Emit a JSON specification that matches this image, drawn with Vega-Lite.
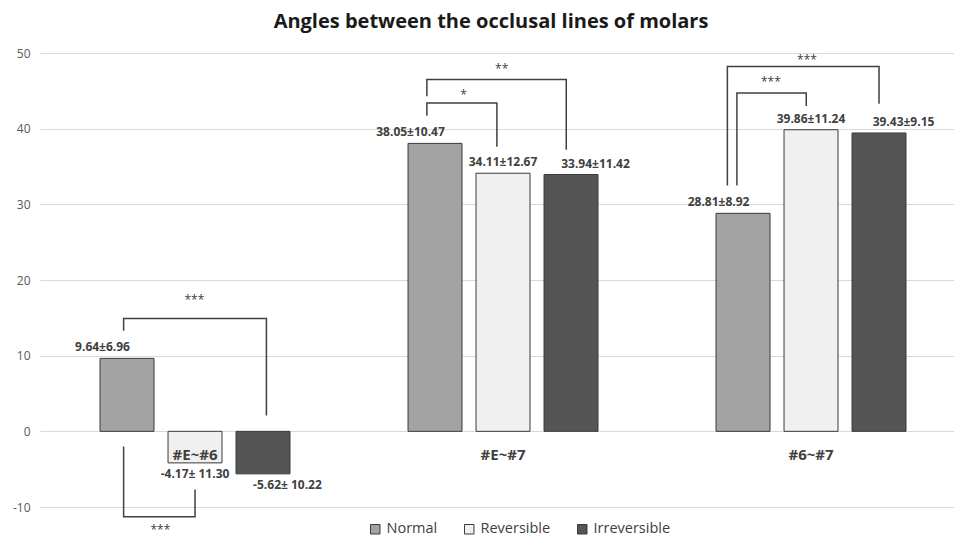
{
  "$schema": "https://vega.github.io/schema/vega-lite/v6.json",
  "width": 914,
  "height": 454,
  "autosize": {"type": "none"},
  "padding": {"left": 40, "top": 53, "right": 0, "bottom": 32},
  "background": "white",
  "title": {
    "text": "Angles between the occlusal lines of molars",
    "font": "Open Sans",
    "fontSize": 20,
    "fontWeight": "bold",
    "color": "#1a1a1a",
    "anchor": "middle",
    "baseline": "alphabetic",
    "offset": -1,
    "dx": -6
  },
  "config": {
    "view": {"stroke": null},
    "font": "Open Sans"
  },
  "datasets": {
    "bars": [
      {"group": "#E~#6", "series": "Normal", "value": 9.64, "label": "9.64±6.96"},
      {"group": "#E~#6", "series": "Reversible", "value": -4.17, "label": "-4.17± 11.30"},
      {"group": "#E~#6", "series": "Irreversible", "value": -5.62, "label": "-5.62± 10.22"},
      {"group": "#E~#7", "series": "Normal", "value": 38.05, "label": "38.05±10.47"},
      {"group": "#E~#7", "series": "Reversible", "value": 34.11, "label": "34.11±12.67"},
      {"group": "#E~#7", "series": "Irreversible", "value": 33.94, "label": "33.94±11.42"},
      {"group": "#6~#7", "series": "Normal", "value": 28.81, "label": "28.81±8.92"},
      {"group": "#6~#7", "series": "Reversible", "value": 39.86, "label": "39.86±11.24"},
      {"group": "#6~#7", "series": "Irreversible", "value": 39.43, "label": "39.43±9.15"}
    ],
    "brackets": [
      {"id": "g1top", "group": "#E~#6", "pos": 0.45, "y": 13.3, "ord": 1},
      {"id": "g1top", "group": "#E~#6", "pos": 0.45, "y": 14.9, "ord": 2},
      {"id": "g1top", "group": "#E~#6", "pos": 2.55, "y": 14.9, "ord": 3},
      {"id": "g1top", "group": "#E~#6", "pos": 2.55, "y": 2.1, "ord": 4},
      {"id": "g1bot", "group": "#E~#6", "pos": 0.45, "y": -2.0, "ord": 1},
      {"id": "g1bot", "group": "#E~#6", "pos": 0.45, "y": -11.3, "ord": 2},
      {"id": "g1bot", "group": "#E~#6", "pos": 1.5, "y": -11.3, "ord": 3},
      {"id": "g1bot", "group": "#E~#6", "pos": 1.5, "y": -7.7, "ord": 4},
      {"id": "g2in", "group": "#E~#7", "pos": 0.38, "y": 41.7, "ord": 1},
      {"id": "g2in", "group": "#E~#7", "pos": 0.38, "y": 43.4, "ord": 2},
      {"id": "g2in", "group": "#E~#7", "pos": 1.41, "y": 43.4, "ord": 3},
      {"id": "g2in", "group": "#E~#7", "pos": 1.41, "y": 37.6, "ord": 4},
      {"id": "g2out", "group": "#E~#7", "pos": 0.38, "y": 44.3, "ord": 1},
      {"id": "g2out", "group": "#E~#7", "pos": 0.38, "y": 46.5, "ord": 2},
      {"id": "g2out", "group": "#E~#7", "pos": 2.43, "y": 46.5, "ord": 3},
      {"id": "g2out", "group": "#E~#7", "pos": 2.43, "y": 37.2, "ord": 4},
      {"id": "g3out", "group": "#6~#7", "pos": 0.27, "y": 32.5, "ord": 1},
      {"id": "g3out", "group": "#6~#7", "pos": 0.27, "y": 48.2, "ord": 2},
      {"id": "g3out", "group": "#6~#7", "pos": 2.5, "y": 48.2, "ord": 3},
      {"id": "g3out", "group": "#6~#7", "pos": 2.5, "y": 43.3, "ord": 4},
      {"id": "g3in", "group": "#6~#7", "pos": 0.41, "y": 32.5, "ord": 1},
      {"id": "g3in", "group": "#6~#7", "pos": 0.41, "y": 44.7, "ord": 2},
      {"id": "g3in", "group": "#6~#7", "pos": 1.43, "y": 44.7, "ord": 3},
      {"id": "g3in", "group": "#6~#7", "pos": 1.43, "y": 43.0, "ord": 4}
    ],
    "stars": [
      {"group": "#E~#6", "pos": 1.49, "y": 17.3, "text": "***"},
      {"group": "#E~#6", "pos": 0.99, "y": -13.0, "text": "***"},
      {"group": "#E~#7", "pos": 0.92, "y": 44.4, "text": "*"},
      {"group": "#E~#7", "pos": 1.48, "y": 47.9, "text": "**"},
      {"group": "#6~#7", "pos": 1.44, "y": 49.1, "text": "***"},
      {"group": "#6~#7", "pos": 0.91, "y": 46.2, "text": "***"}
    ]
  },
  "layer": [
    {
      "data": {"name": "bars"},
      "mark": {"type": "bar", "stroke": "#3a3a3a", "strokeWidth": 1},
      "encoding": {
        "x": {
          "field": "group", "type": "nominal",
          "sort": ["#E~#6", "#E~#7", "#6~#7"],
          "scale": {"paddingInner": 0.3377, "paddingOuter": 0.1526, "align": 0.564},
          "axis": {
            "title": null, "orient": "bottom", "offset": -75.6,
            "domain": false, "ticks": false, "grid": false,
            "labelAngle": 0, "labelPadding": 16,
            "labelFontSize": 15, "labelFontWeight": "bold",
            "labelColor": "#404040", "labelFont": "Open Sans", "zindex": 1
          }
        },
        "xOffset": {
          "field": "series", "type": "nominal",
          "sort": ["Normal", "Reversible", "Irreversible"],
          "scale": {"domain": ["Normal", "Reversible", "Irreversible"], "paddingInner": 0.206, "paddingOuter": 0.103}
        },
        "y": {
          "field": "value", "type": "quantitative",
          "scale": {"domain": [-10, 50], "nice": false, "zero": false},
          "axis": {
            "title": null, "values": [-10, 0, 10, 20, 30, 40, 50],
            "labelExpr": "replace(datum.label, '−', '-')",
            "domain": false, "ticks": false, "grid": true,
            "gridColor": "#d9d9d9", "gridWidth": 1,
            "labelPadding": 10, "labelFontSize": 12,
            "labelColor": "#595959", "labelFont": "Open Sans"
          }
        },
        "fill": {
          "field": "series", "type": "nominal",
          "scale": {
            "domain": ["Normal", "Reversible", "Irreversible"],
            "range": ["#a3a3a3", "#f0f0f0", "#555555"]
          },
          "legend": {
            "title": null, "orient": "none", "direction": "horizontal",
            "legendX": 328, "legendY": 469,
            "symbolType": "square", "symbolSize": 90,
            "symbolStrokeColor": "#3a3a3a", "symbolStrokeWidth": 1,
            "labelFontSize": 14.5, "labelColor": "#404040", "labelFont": "Open Sans",
            "labelOffset": 4, "columnPadding": 24, "padding": 0
          }
        }
      }
    },
    {
      "data": {"name": "bars"},
      "transform": [{"filter": "datum.value >= 0"}],
      "mark": {"type": "text", "baseline": "bottom", "dy": -4, "fontSize": 12, "fontWeight": "bold", "color": "#404040", "font": "Open Sans"},
      "encoding": {
        "x": {"field": "group", "type": "nominal", "sort": ["#E~#6", "#E~#7", "#6~#7"]},
        "xOffset": {
          "field": "series", "type": "nominal",
          "sort": ["Normal", "Reversible", "Irreversible"],
          "scale": {"domain": ["Normal", "Reversible", "Irreversible"], "paddingInner": 0.206, "paddingOuter": 0.103}
        },
        "y": {"field": "value", "type": "quantitative"},
        "text": {"field": "label"}
      }
    },
    {
      "data": {"name": "bars"},
      "transform": [{"filter": "datum.value < 0"}],
      "mark": {"type": "text", "baseline": "top", "dy": 6, "fontSize": 12, "fontWeight": "bold", "color": "#404040", "font": "Open Sans"},
      "encoding": {
        "x": {"field": "group", "type": "nominal", "sort": ["#E~#6", "#E~#7", "#6~#7"]},
        "xOffset": {
          "field": "series", "type": "nominal",
          "sort": ["Normal", "Reversible", "Irreversible"],
          "scale": {"domain": ["Normal", "Reversible", "Irreversible"], "paddingInner": 0.206, "paddingOuter": 0.103}
        },
        "y": {"field": "value", "type": "quantitative"},
        "text": {"field": "label"}
      }
    },
    {
      "data": {"name": "brackets"},
      "mark": {"type": "line", "color": "#404040", "strokeWidth": 1.5, "strokeJoin": "miter"},
      "encoding": {
        "x": {"field": "group", "type": "nominal", "sort": ["#E~#6", "#E~#7", "#6~#7"]},
        "xOffset": {"field": "pos", "type": "quantitative", "scale": {"domain": [0, 3], "range": [0, 204], "nice": false, "zero": false}},
        "y": {"field": "y", "type": "quantitative"},
        "detail": {"field": "id"},
        "order": {"field": "ord", "type": "quantitative"}
      }
    },
    {
      "data": {"name": "stars"},
      "mark": {"type": "text", "baseline": "middle", "fontSize": 12, "color": "#404040", "font": "Open Sans"},
      "encoding": {
        "x": {"field": "group", "type": "nominal", "sort": ["#E~#6", "#E~#7", "#6~#7"]},
        "xOffset": {"field": "pos", "type": "quantitative", "scale": {"domain": [0, 3], "range": [0, 204], "nice": false, "zero": false}},
        "y": {"field": "y", "type": "quantitative"},
        "text": {"field": "text"}
      }
    }
  ],
  "resolve": {"scale": {"xOffset": "independent"}}
}
